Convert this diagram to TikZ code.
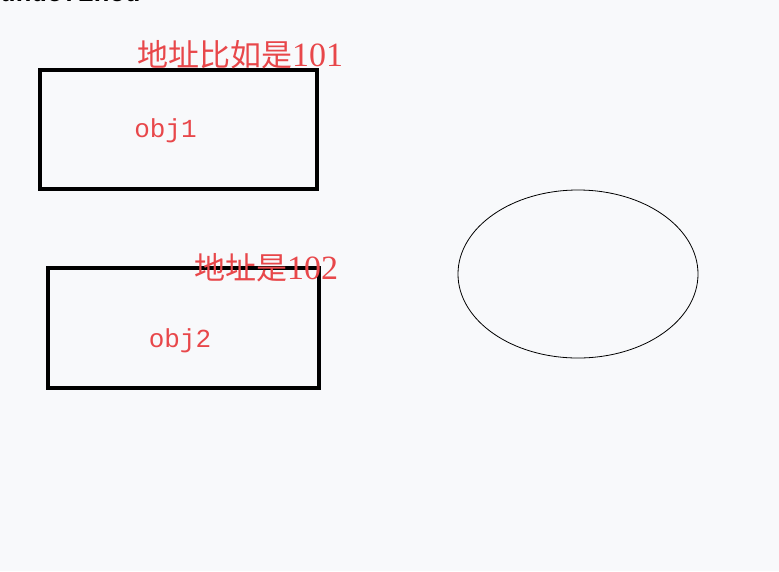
\documentclass[tikz,border=0pt]{standalone}
\usepackage{fontspec}
\setmainfont{Liberation Serif}
\setmonofont{Liberation Mono}
\newfontfamily\cjk{Noto Sans CJK SC}
\usetikzlibrary{shapes.geometric,positioning}
\definecolor{refBack}{HTML}{F8F9FB}
\definecolor{refRed}{HTML}{E8474A}
\tikzset{
  objbox/.style={rectangle,draw=black,line width=3.1pt,inner sep=0pt},
  objtext/.style={font=\fontsize{26}{26}\ttfamily,text=refRed,inner sep=0pt},
  addrtext/.style={font=\fontsize{31}{31}\selectfont,text=refRed,inner sep=0pt},
  blob/.style={ellipse,draw=black,line width=0.8pt,inner sep=0pt}
}
\begin{document}
\begin{tikzpicture}[x=1pt,y=-1pt]
  \fill[refBack] (0,0) rectangle (779,571);
  \useasboundingbox (0,0) rectangle (779,571);
  % cut-off caption at the top edge
  \node[anchor=base west,inner sep=0pt,font=\fontsize{26}{26}\ttfamily\bfseries] (cap) at (0,1.8) {undefined};
  % first object
  \node[objbox,minimum width=277pt,minimum height=119pt] (box1) at (178.5,129.5) {};
  \node[objtext] (obj1) at (165.5,131) {obj1};
  \node[addrtext] (addr1) at (240,55) {{\cjk 地址比如是}{\fontsize{34}{34}\selectfont 101}};
  % second object
  \node[objbox,minimum width=271pt,minimum height=120pt] (box2) at (183.5,328) {};
  \node[objtext] (obj2) at (180,341) {obj2};
  \node[addrtext] (addr2) at (266,268) {{\cjk 地址是}{\fontsize{34}{34}\selectfont 102}};
  % free shape on the right
  \node[blob,minimum width=240pt,minimum height=168pt] (cloud) at (578,274) {};
\end{tikzpicture}
\end{document}
